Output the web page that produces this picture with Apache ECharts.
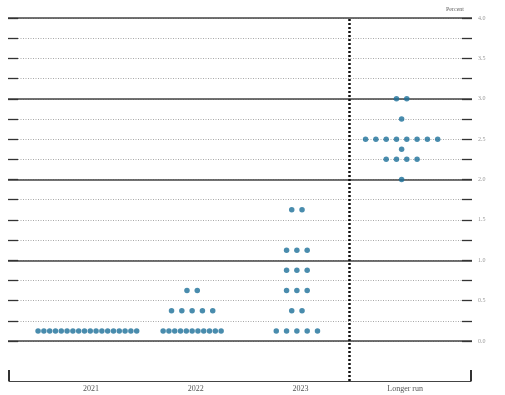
<!DOCTYPE html>
<html>
<head>
<meta charset="utf-8">
<script src="https://cdn.jsdelivr.net/npm/echarts@6/dist/echarts.min.js"></script>
<style>
html,body{margin:0;padding:0;background:#fff;}
#chart{width:505px;height:395px;}
</style>
</head>
<body>
<div id="chart"></div>
<script>
// Categories (x axis)
var categories = ['2021', '2022', '2023', 'Longer run'];
// Each row: [rate midpoint (percent), number of participants]
var dots2021 = [[0.125, 18]];
var dots2022 = [[0.125, 11], [0.375, 5], [0.625, 2]];
var dots2023 = [[0.125, 5], [0.375, 2], [0.625, 3], [0.875, 3], [1.125, 3], [1.625, 2]];
var dotsLonger = [[2.0, 1], [2.25, 4], [2.375, 1], [2.5, 8], [2.75, 1], [3.0, 2]];
// Y axis tick values
var yMin = 0, yMax = 4, yStep = 0.25;

var groups = [dots2021, dots2022, dots2023, dotsLonger];
var bandPx = 419 / categories.length;
var data = [];
groups.forEach(function (rows, ci) {
  rows.forEach(function (r) {
    var n = r[1];
    var sp = (n > 10 ? 5.8 : 10.3) / bandPx;
    for (var i = 0; i < n; i++) {
      data.push([ci + (i - (n - 1) / 2) * sp, r[0]]);
    }
  });
});

var serif = '"Liberation Serif", "DejaVu Serif", serif';
var chart = echarts.init(document.getElementById('chart'));
chart.setOption({
  animation: false,
  title: {
    text: 'Percent', right: 36, top: 1,
    textStyle: { fontSize: 6, fontWeight: 'normal', color: '#666', fontFamily: serif }
  },
  grid: [
    { left: 8, right: 33, top: 18, bottom: 54 },
    { left: 35, right: 51, top: 18, bottom: 54 },
    { left: 35, right: 51, top: 18, bottom: 14 },
    { left: 9, right: 34, top: 18, bottom: 14 }
  ],
  xAxis: [
    { gridIndex: 0, type: 'value', min: 0, max: 1, show: false, axisLine: { onZero: false } },
    { gridIndex: 1, type: 'value', min: -0.5, max: categories.length - 0.5, show: false, axisLine: { onZero: false } },
    {
      gridIndex: 2, type: 'category', data: categories, position: 'bottom',
      axisLine: { onZero: false, lineStyle: { color: '#555', width: 1.2 } },
      axisTick: { inside: true, length: 6, lineStyle: { color: '#555', width: 1 } },
      axisLabel: { fontSize: 8, color: '#555', fontFamily: serif, margin: 4, padding: [0, 0, 0, 7] },
      splitLine: { show: false }
    },
    { gridIndex: 2, type: 'value', min: -0.5, max: categories.length - 0.5, show: false, axisLine: { onZero: false } },
    {
      gridIndex: 3, type: 'value', min: 0, max: 1, interval: 1,
      axisLine: { onZero: false, lineStyle: { color: '#444', width: 1.2 } },
      axisTick: { inside: true, length: 11, lineStyle: { color: '#333', width: 2 } },
      axisLabel: { show: false },
      splitLine: { show: false }
    }
  ],
  yAxis: [
    {
      gridIndex: 0, type: 'value', position: 'right', min: yMin, max: yMax, interval: yStep,
      axisLine: { show: false, onZero: false },
      axisTick: { show: true, inside: true, length: 10, lineStyle: { color: '#333', width: 1.3 } },
      axisLabel: {
        fontSize: 6, color: '#999', fontFamily: serif, margin: 6,
        formatter: function (v) { return (Math.abs(v * 2 - Math.round(v * 2)) < 1e-6) ? v.toFixed(1) : ''; }
      },
      splitLine: { show: true, lineStyle: { color: '#a8a8a8', type: [1, 1.5], width: 1 } }
    },
    {
      gridIndex: 0, type: 'value', position: 'left', min: yMin, max: yMax, interval: yStep,
      axisLine: { show: false, onZero: false },
      axisTick: { show: true, inside: true, length: 10, lineStyle: { color: '#333', width: 1.3 } },
      axisLabel: { show: false },
      splitLine: { show: true, lineStyle: { color: ['#444', 'rgba(0,0,0,0)', 'rgba(0,0,0,0)', 'rgba(0,0,0,0)'], width: 1.5 } }
    },
    { gridIndex: 1, type: 'value', min: yMin, max: yMax, show: false, axisLine: { onZero: false } },
    { gridIndex: 2, type: 'value', min: 0, max: 1, show: false, axisLine: { onZero: false } },
    { gridIndex: 3, type: 'value', min: 0, max: 1, show: false, axisLine: { onZero: false } }
  ],
  series: [
    {
      type: 'scatter', xAxisIndex: 1, yAxisIndex: 2,
      symbol: 'circle', symbolSize: 5.5,
      itemStyle: { color: '#1c6f98' },
      data: data, z: 5
    },
    {
      type: 'line', xAxisIndex: 3, yAxisIndex: 3, data: [],
      markLine: {
        silent: true, symbol: ['none', 'none'], label: { show: false },
        lineStyle: { color: '#111', type: [2, 2], width: 2.5 },
        data: [{ xAxis: categories.length - 1.5 }]
      }
    }
  ]
});
</script>
</body>
</html>
